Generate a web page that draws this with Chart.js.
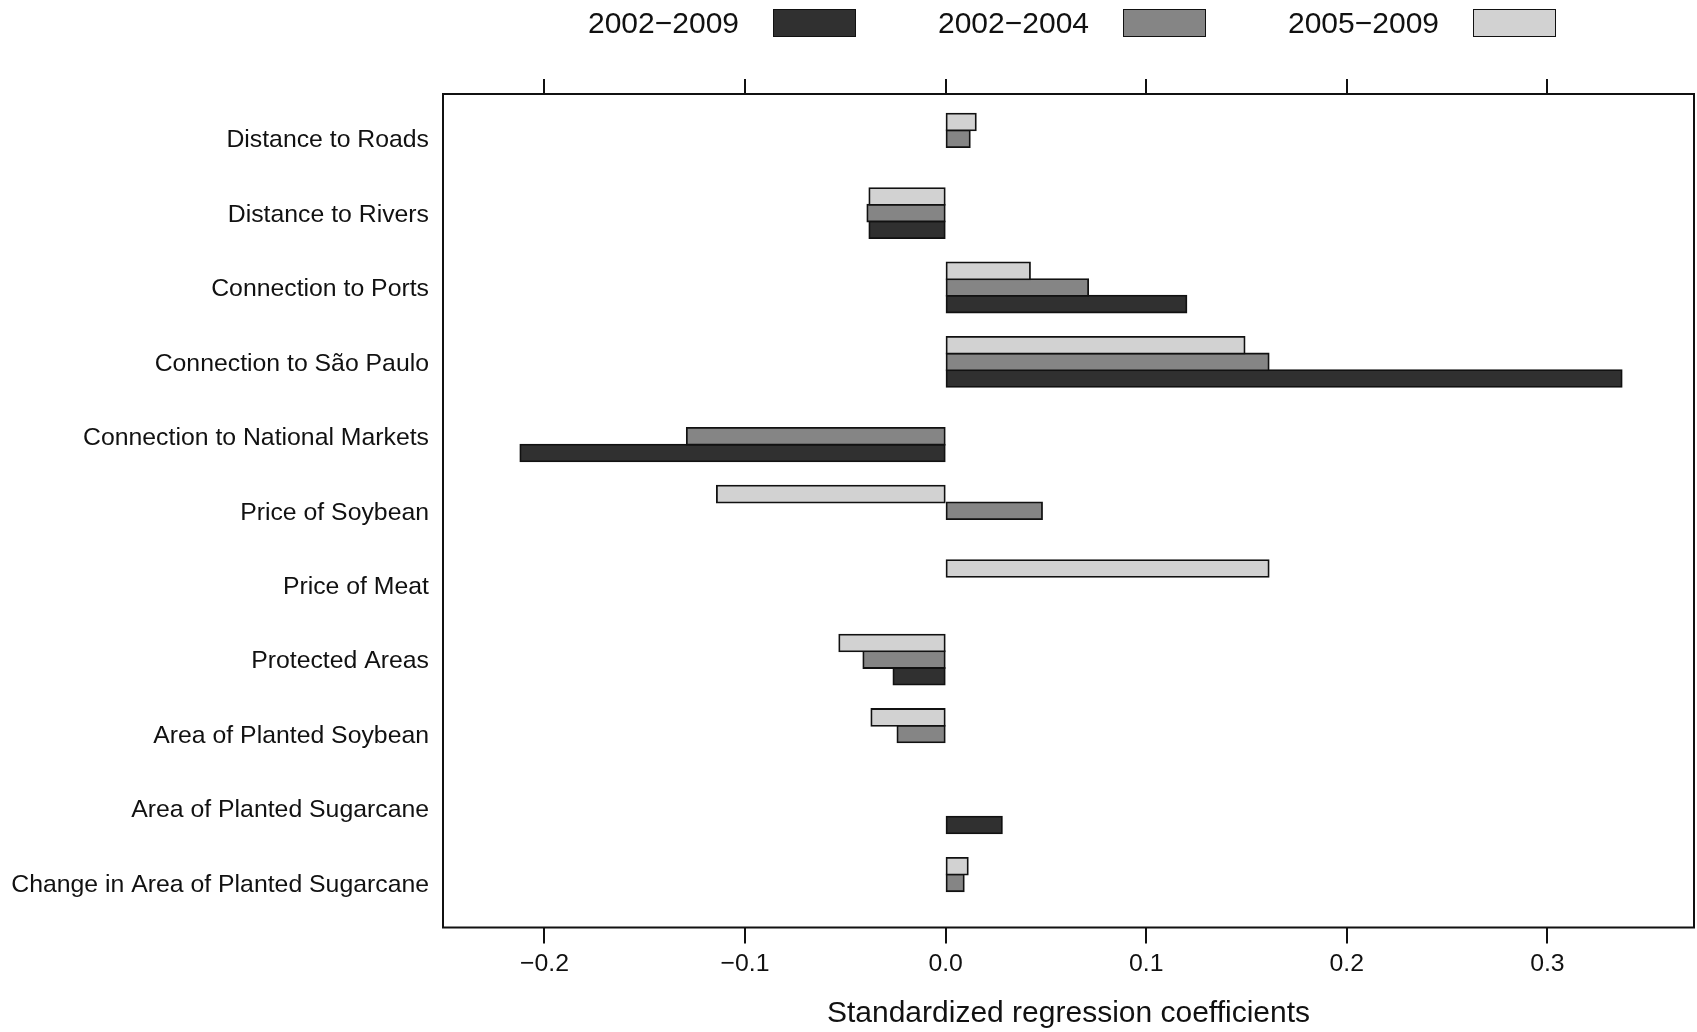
<!DOCTYPE html>
<html>
<head>
<meta charset="utf-8">
<script src="https://cdn.jsdelivr.net/npm/chart.js@4/dist/chart.umd.min.js"></script>
<style>
  body { margin: 0; background: #fff; }
  #wrap { position: relative; width: 1697px; height: 1032px; }
  #legend {
    position: absolute; left: 588px; top: 9px; height: 28px;
    display: flex; align-items: center;
    font-family: "Liberation Sans", Arial, sans-serif; font-size: 30px; color: #111;
  }
  .lg-item { display: flex; align-items: center; margin-right: 82px; }
  .lg-box { width: 83px; height: 28px; box-sizing: border-box; border: 1.5px solid #111; margin-left: 34px; }
</style>
</head>
<body>
<div id="wrap">
  <canvas id="chart" width="1697" height="1032"></canvas>
  <div id="legend"></div>
</div>
<script>
// ── data ──────────────────────────────────────────────────────────────────
const categories = [
  "Distance to Roads",
  "Distance to Rivers",
  "Connection to Ports",
  "Connection to São Paulo",
  "Connection to National Markets",
  "Price of Soybean",
  "Price of Meat",
  "Protected Areas",
  "Area of Planted Soybean",
  "Area of Planted Sugarcane",
  "Change in Area of Planted Sugarcane",
];
const coef2002to2009 = [null, -0.038, 0.120, 0.337, -0.212, null, null, -0.026, null, 0.028, null];
const coef2002to2004 = [0.012, -0.039, 0.071, 0.161, -0.129, 0.048, null, -0.041, -0.024, null, 0.009];
const coef2005to2009 = [0.015, -0.038, 0.042, 0.149, null, -0.114, 0.161, -0.053, -0.037, null, 0.011];

const xTickValues = [-0.2, -0.1, 0.0, 0.1, 0.2, 0.3];
const xTickLabels = ["\u22120.2", "\u22120.1", "0.0", "0.1", "0.2", "0.3"];

// legend order (left → right); bars are stacked top → bottom in reverse
const series = [
  { label: "2002\u22122009", values: coef2002to2009, color: "#303030" },
  { label: "2002\u22122004", values: coef2002to2004, color: "#858585" },
  { label: "2005\u22122009", values: coef2005to2009, color: "#d2d2d2" },
];

// ── legend (text, then swatch) ────────────────────────────────────────────
const legendEl = document.getElementById("legend");
series.forEach((s) => {
  const item = document.createElement("div");
  item.className = "lg-item";
  const txt = document.createElement("span");
  txt.textContent = s.label;
  const box = document.createElement("span");
  box.className = "lg-box";
  box.style.background = s.color;
  item.appendChild(txt);
  item.appendChild(box);
  legendEl.appendChild(item);
});

// ── chart ─────────────────────────────────────────────────────────────────
Chart.defaults.font.family = "'Liberation Sans', Arial, sans-serif";
Chart.defaults.color = "#111";

const frame = {
  id: "frame",
  afterDatasetsDraw(chart) {
    const { ctx, chartArea: a } = chart;
    ctx.save();
    ctx.strokeStyle = "#111";
    ctx.lineWidth = 2;
    ctx.strokeRect(a.left, a.top, a.right - a.left, a.bottom - a.top);
    ctx.restore();
  },
};

const xTicks = (scale) => { scale.ticks = xTickValues.map((v) => ({ value: v })); };

new Chart(document.getElementById("chart"), {
  type: "bar",
  data: {
    datasets: series.slice().reverse().map((s) => ({
      label: s.label,
      data: s.values.map((v, i) => ({ x: v, y: i })),
      backgroundColor: s.color,
      borderColor: "#111",
      borderWidth: 1.8,
      borderSkipped: false,
      inflateAmount: 1,
      categoryPercentage: 0.67,
      barPercentage: 1.0,
    })),
  },
  options: {
    indexAxis: "y",
    responsive: false,
    animation: false,
    devicePixelRatio: 1,
    layout: { padding: { left: 0, right: 3, top: 79, bottom: 0 } },
    plugins: { legend: { display: false }, tooltip: { enabled: false } },
    scales: {
      y: {
        type: "linear",
        reverse: true,
        offset: false,
        min: -0.6,
        max: 10.6,
        afterBuildTicks: (scale) => { scale.ticks = categories.map((c, i) => ({ value: i })); },
        afterFit: (scale) => { scale.width = 443; },
        grid: { display: false, drawTicks: false, offset: false },
        border: { display: false },
        ticks: {
          padding: 14,
          labelOffset: 2,
          font: { size: 24.8 },
          callback: (v) => categories[v],
        },
      },
      x: {
        type: "linear",
        position: "bottom",
        min: -0.2506,
        max: 0.3731,
        afterBuildTicks: xTicks,
        afterFit: (scale) => { scale.height = 104.5; },
        grid: { drawOnChartArea: false, drawTicks: true, tickLength: 16, color: "#111", lineWidth: 2 },
        border: { display: false },
        ticks: {
          padding: 6,
          maxRotation: 0,
          autoSkip: false,
          font: { size: 24.8 },
          callback: (v, i) => xTickLabels[i],
        },
        title: {
          display: true,
          text: "Standardized regression coefficients",
          font: { size: 30 },
          padding: { top: 0, bottom: 0 },
        },
      },
      x2: {
        type: "linear",
        position: "top",
        axis: "x",
        min: -0.2506,
        max: 0.3731,
        afterBuildTicks: xTicks,
        afterFit: (scale) => { scale.height = 15; },
        grid: { drawOnChartArea: false, drawTicks: true, tickLength: 15, color: "#111", lineWidth: 2 },
        border: { display: false },
        ticks: { display: false },
      },
    },
  },
  plugins: [frame],
});
</script>
</body>
</html>
